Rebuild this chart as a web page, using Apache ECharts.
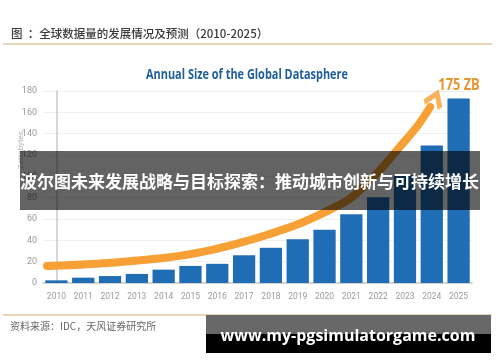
<!DOCTYPE html>
<html><head><meta charset="utf-8">
<script src="https://cdn.jsdelivr.net/npm/echarts@6/dist/echarts.min.js"></script>
<style>html,body{margin:0;padding:0;background:#fff}#c{width:500px;height:362px}</style>
</head><body><div id="c"></div>
<script>
const years = ['2010','2011','2012','2013','2014','2015','2016','2017','2018','2019','2020','2021','2022','2023','2024','2025'];
const sizes = [2.5,5,6.5,8.5,12.5,16,18,26,33,41,50,64.5,80.5,101,129,173];
const trendCurve = [[-0.35,16],[1.5,18],[4,23.5],[5.4,29],[6.6,36],[7.9,45.5],[9.1,56],[10.3,70],[11.0,80],[12.07,106],[12.82,128],[13.46,147],[13.94,165]];
const arrowTip = [[14.12,173]];
const yTicks = {min:0, max:180, interval:20};

const chart = echarts.init(document.getElementById('c'));
const sans = "Roboto,'Open Sans',sans-serif";
chart.setOption({
  animation:false,
  grid:{left:43,right:28,top:91,bottom:79},
  xAxis:[{type:'category',data:years,
    axisLine:{lineStyle:{color:'#c8c8c8',width:1.5}},axisTick:{show:false},
    axisLabel:{color:'#9a9a9a',fontSize:8.5,fontFamily:sans,margin:9,interval:0}},
   {type:'value',min:-0.5,max:15.5,show:false}],
  yAxis:{type:'value',min:yTicks.min,max:yTicks.max,interval:yTicks.interval,
    axisLine:{show:true,lineStyle:{color:'#c8c8c8',width:1.5}},axisTick:{show:false},
    axisLabel:{color:'#9a9a9a',fontSize:9,fontFamily:sans,margin:6},
    splitLine:{lineStyle:{color:'#f0f0f0'}}},
  series:[
   {type:'bar',data:sizes,barCategoryGap:'17%',itemStyle:{color:'#1f6db4'},z:2},
   {type:'line',xAxisIndex:1,data:trendCurve,smooth:0.35,symbol:'none',
    lineStyle:{color:'#f7a035',width:8,cap:'round'},z:3},
   {type:'scatter',xAxisIndex:1,data:arrowTip,symbol:'path://M0,0 L10,9 L7,12 L0,5.5 L-7,12 L-10,9 Z',
    symbolSize:[20,20],symbolRotate:-22,itemStyle:{color:'#f7a035'},z:3,silent:true}
  ],
  graphic:[
   {type:'text',x:11,y:28,style:{text:'图  ：全球数据量的发展情况及预测（2010-2025）',fill:'#3a3a3a',font:'500 11.5px "Noto Sans CJK SC",sans-serif'}},
   {type:'line',shape:{x1:3,y1:44,x2:492,y2:44},style:{stroke:'#e2c9a2',lineWidth:1.5}},
   {type:'text',x:247,y:75,scaleX:0.78,style:{text:'Annual Size of the Global Datasphere',fill:'#1f5e9c',font:'bold 14px "Open Sans",sans-serif',align:'center',verticalAlign:'middle'}},
   {type:'text',x:459,y:85,scaleX:0.8,style:{text:'175 ZB',fill:'#e8952e',font:'bold 16px "Open Sans",sans-serif',align:'center',verticalAlign:'middle'}},
   {type:'text',x:21,y:150,rotation:Math.PI/2,style:{text:'Zettabytes',fill:'#b0b0b0',font:'8px Roboto,sans-serif',align:'center',verticalAlign:'middle'}},
   {type:'line',shape:{x1:3,y1:315,x2:492,y2:315},style:{stroke:'#e2c9a2',lineWidth:1.5}},
   {type:'text',x:10,y:321,style:{text:'资料来源：IDC，天风证券研究所',fill:'#666',font:'10px "Noto Sans CJK SC",sans-serif'}},
   {type:'rect',shape:{x:20,y:151,width:460,height:59},style:{fill:'rgba(0,0,0,0.61)'},z:10},
   {type:'text',x:20,y:173,style:{text:'波尔图未来发展战略与目标探索：推动城市创新与可持续增长',fill:'#fff',font:'bold 17px "Noto Sans CJK SC",sans-serif'},z:11},
   {type:'rect',shape:{x:206,y:315,width:285,height:19},style:{fill:'#686868'},z:10},
   {type:'rect',shape:{x:206,y:334,width:285,height:19},style:{fill:'#000'},z:10},
   {type:'text',x:348,y:336,style:{text:'www.my-pgsimulatorgame.com',fill:'#fff',font:'bold 16px "Open Sans",sans-serif',align:'center',verticalAlign:'middle'},z:11}
  ]
});
</script></body></html>
